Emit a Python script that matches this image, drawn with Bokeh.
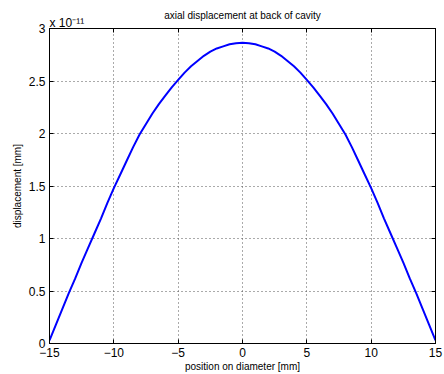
from bokeh.plotting import figure
from bokeh.embed import file_html
from bokeh.resources import INLINE
from bokeh.models import FixedTicker, Range1d, LinearAxis, Title

# position on diameter [mm]
position = [-15, -14.5, -14, -13.5, -13, -12.5, -12, -11.5, -11, -10.5, -10, -9.5, -9, -8.5, -8, -7.5,
            -7, -6.5, -6, -5.5, -5, -4.5, -4, -3.5, -3, -2.5, -2, -1.5, -1, -0.5, 0,
            0.5, 1, 1.5, 2, 2.5, 3, 3.5, 4, 4.5, 5, 5.5, 6, 6.5, 7, 7.5,
            8, 8.5, 9, 9.5, 10, 10.5, 11, 11.5, 12, 12.5, 13, 13.5, 14, 14.5, 15]
# axial displacement, in units of 1e-11 mm
displacement = [0.03, 0.18, 0.33, 0.48, 0.62, 0.77, 0.91, 1.05, 1.19, 1.34, 1.48, 1.61, 1.74, 1.87, 1.99, 2.09,
                2.19, 2.28, 2.36, 2.44, 2.51, 2.58, 2.64, 2.69, 2.74, 2.78, 2.81, 2.83, 2.85, 2.86, 2.864,
                2.86, 2.85, 2.83, 2.81, 2.78, 2.74, 2.69, 2.64, 2.58, 2.51, 2.44, 2.36, 2.28, 2.19, 2.09,
                1.99, 1.87, 1.74, 1.61, 1.48, 1.34, 1.19, 1.05, 0.91, 0.77, 0.62, 0.48, 0.33, 0.18, 0.03]
x_ticks = [-15, -10, -5, 0, 5, 10, 15]
y_ticks = [0, 0.5, 1, 1.5, 2, 2.5, 3]
exponent_text = "x 10\u207b\u00b9\u00b9"
title_text = "axial displacement at back of cavity"

FONT = "Liberation Sans"

W, H = 444, 374
BL, BR, BT, BB = 49, 9, 28, 31
p = figure(width=W, height=H, output_backend="svg", toolbar_location=None,
           x_range=Range1d(-15, 15), y_range=Range1d(0, 3),
           min_border_left=BL, min_border_right=BR, min_border_top=BT, min_border_bottom=BB,
           title=None)

xb = p.xaxis[0]
yl = p.yaxis[0]

for ax in [xb, yl]:
    ax.major_label_text_font = FONT
    ax.major_label_text_font_size = "12px"
    ax.major_label_text_color = "black"
    ax.axis_label_text_font = FONT
    ax.axis_label_text_font_size = "10px"
    ax.axis_label_text_font_style = "normal"
    ax.axis_label_text_color = "black"
    ax.axis_line_color = "black"
    ax.major_tick_in = 4
    ax.major_tick_out = 0
    ax.minor_tick_line_color = None
    ax.major_tick_line_color = "black"

xb.ticker = FixedTicker(ticks=x_ticks)
yl.ticker = FixedTicker(ticks=y_ticks)
xb.axis_label = "position on diameter [mm]"
yl.axis_label = "displacement [mm]"
xb.major_label_standoff = 4
xb.axis_label_standoff = 1
yl.major_label_standoff = 4
yl.axis_label_standoff = 3

p.xgrid.ticker = FixedTicker(ticks=x_ticks)
p.ygrid.ticker = FixedTicker(ticks=y_ticks)
for g in [p.xgrid[0], p.ygrid[0]]:
    g.grid_line_color = "#555555"
    g.grid_line_dash = "1 3"
    g.grid_line_width = 1

# box sides with inward ticks (no labels), next to the frame
for loc, ticks in [("right", y_ticks), ("above", x_ticks)]:
    ax = LinearAxis(ticker=FixedTicker(ticks=[], minor_ticks=ticks),
                    minor_tick_in=4, minor_tick_out=0, major_tick_in=0, major_tick_out=0,
                    minor_tick_line_color="black", axis_line_color="black")
    p.add_layout(ax, loc)

# inner title row: the exponent; outer row: the chart title (pulled down to overlap)
p.add_layout(Title(text=exponent_text, align="left", offset=0, standoff=-2,
                   text_font=FONT, text_font_size="12px", text_font_style="normal",
                   text_color="black"), "above")
p.add_layout(Title(text=title_text, align="center", standoff=-12,
                   text_font=FONT, text_font_size="10px", text_font_style="normal",
                   text_color="black"), "above")

p.line(position, displacement, line_color="#0000ff", line_width=2)

p.outline_line_color = "black"
p.outline_line_width = 1

open("out.html", "w").write(file_html(p, INLINE))
